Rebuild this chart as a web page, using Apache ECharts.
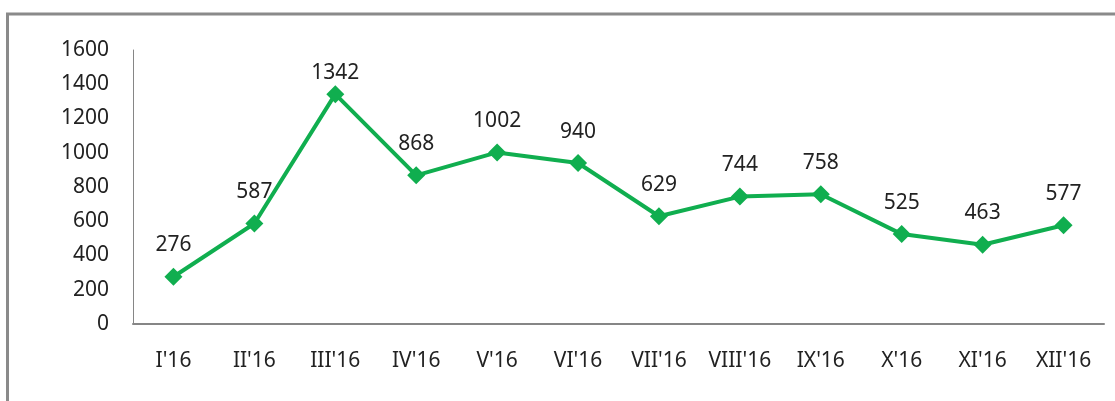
<!DOCTYPE html>
<html>
<head>
<meta charset="utf-8">
<script src="https://cdn.jsdelivr.net/npm/echarts@6/dist/echarts.min.js"></script>
<style>
  html, body { margin: 0; padding: 0; background: #fff; }
  #chart { width: 1115px; height: 401px; }
</style>
</head>
<body>
<div id="chart"></div>
<script>
const months = ["I'16", "II'16", "III'16", "IV'16", "V'16", "VI'16", "VII'16", "VIII'16", "IX'16", "X'16", "XI'16", "XII'16"]
const counts = [276, 587, 1342, 868, 1002, 940, 629, 744, 758, 525, 463, 577]

const font = '"Noto Sans", sans-serif'
const chart = echarts.init(document.getElementById('chart'))
// the top label sits closer to its point, like in the reference
const seriesData = counts.map((v) => (v > 1200 ? { value: v, label: { distance: 2 } } : v))

chart.setOption({
  animation: false,
  graphic: [
    {
      type: 'rect',
      shape: { x: 7.5, y: 14, width: 1200, height: 500 },
      style: { fill: 'none', stroke: '#8a8a8a', lineWidth: 3 },
    },
  ],
  grid: { left: 133, right: 11, top: 50, bottom: 77 },
  xAxis: {
    type: 'category',
    data: months,
    axisLine: { lineStyle: { color: '#868686', width: 2 } },
    axisTick: { show: false },
    axisLabel: { color: '#222', fontSize: 21, fontFamily: font, margin: 27, interval: 0 },
  },
  yAxis: {
    type: 'value',
    min: 0,
    max: 1600,
    interval: 200,
    splitLine: { show: false },
    axisLine: { show: true, lineStyle: { color: '#868686', width: 1 } },
    axisTick: { show: false },
    axisLabel: { color: '#222', fontSize: 21, fontFamily: font, margin: 24, formatter: (v) => String(v) },
  },
  series: [
    {
      type: 'line',
      data: seriesData,
      symbol: 'diamond',
      symbolSize: 18,
      lineStyle: { color: '#10ae4f', width: 4 },
      itemStyle: { color: '#10ae4f' },
      label: { show: true, position: 'top', distance: 12, color: '#222', fontSize: 21, fontFamily: font },
    },
  ],
})
</script>
</body>
</html>
